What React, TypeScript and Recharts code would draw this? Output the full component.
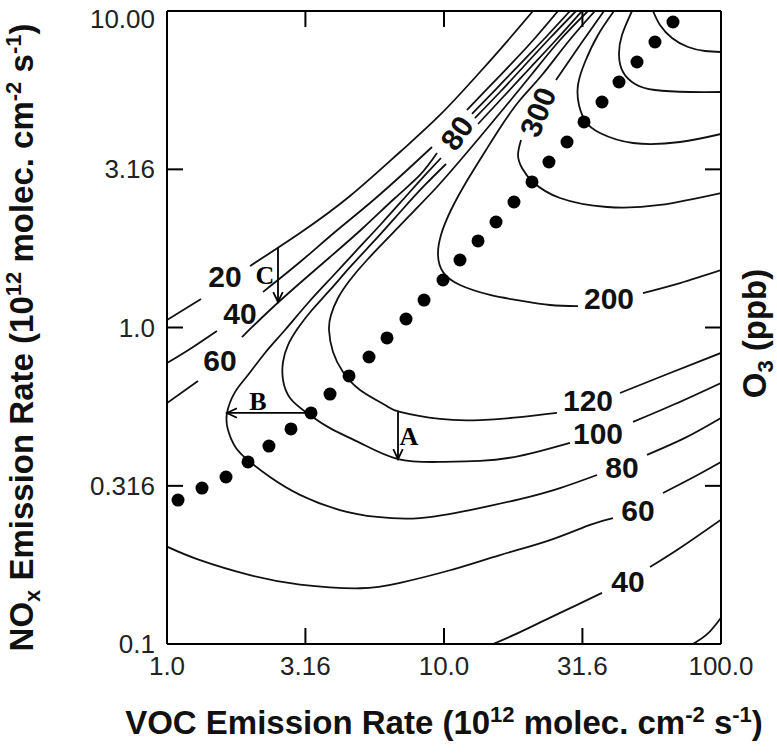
import React from "react";
import { ComposedChart, Line, Scatter, XAxis, YAxis, ReferenceLine, Label } from "recharts";

// ---------- axes ----------
const xTicks = [1, 3.16, 10, 31.6, 100];
const xTickLabels = ["1.0", "3.16", "10.0", "31.6", "100.0"];
const yTicks = [0.1, 0.316, 1, 3.16, 10];
const yTickLabels = ["0.1", "0.316", "1.0", "3.16", "10.00"];

// ---------- O3 isopleths (VOC, NOx) ; each level split into segments (gaps for labels) ----------
const c20 = [
  [[1, 1.056], [1.327, 1.23]],
  [[1.994, 1.564], [3.021, 1.989], [4.578, 2.603], [6.937, 3.585], [9.673, 4.693], [13.49, 6.416], [17.31, 8.217], [20.96, 10]],
  [[79.23, 0.1], [89.76, 0.108], [100, 0.121]],
];
const c40 = [
  [[1, 0.772], [1.211, 0.855], [1.515, 0.975]],
  [[2.221, 1.295], [3.021, 1.61], [4.041, 2.003], [5.406, 2.474], [7.231, 3.1], [9.051, 3.718]],
  [[12.11, 4.866], [14.66, 5.795], [17.89, 6.951], [21.48, 8.277], [25.8, 10]],
  [[15.03, 0.1], [18.81, 0.109], [23.15, 0.119], [29.71, 0.132], [37.19, 0.145]],
  [[55.42, 0.175], [71.12, 0.201], [100, 0.247]],
];
const c60 = [
  [[1, 0.577], [1.294, 0.678]],
  [[1.865, 0.933], [2.354, 1.136], [3.021, 1.382], [3.877, 1.67], [5.1, 2.062], [6.654, 2.565], [8.192, 3.033], [9.435, 3.559]],
  [[12.62, 4.727], [15.54, 5.711], [19.12, 6.9], [23.35, 8.277], [28.5, 10]],
  [[1, 0.203], [1.316, 0.184], [1.994, 0.165], [3.021, 0.154], [4.975, 0.15], [6.937, 0.156], [10.51, 0.171], [15.93, 0.191], [24.14, 0.213], [33.66, 0.238], [40.75, 0.25]],
  [[61.74, 0.3], [77.28, 0.332], [100, 0.376]],
];
const c80 = [
  [[9.754, 3.432], [8.755, 3.1], [7.414, 2.641], [5.973, 2.139], [4.852, 1.758], [3.942, 1.444], [3.229, 1.195], [2.667, 0.982], [2.258, 0.831], [1.961, 0.708], [1.76, 0.625], [1.647, 0.537], [1.661, 0.474], [1.775, 0.416], [1.994, 0.376], [2.354, 0.337], [3.021, 0.296], [4.213, 0.265], [5.73, 0.252], [8.192, 0.25], [12.41, 0.265], [18.81, 0.287], [26.23, 0.311], [35.67, 0.342]],
  [[12.94, 4.591], [15.93, 5.547], [19.61, 6.751], [24.14, 8.217], [29.96, 10]],
  [[54.05, 0.396], [74.13, 0.448], [100, 0.518]],
];
const c100 = [
  [[10.17, 3.285], [8.539, 2.82], [7.053, 2.351], [5.73, 1.918], [4.655, 1.576], [3.877, 1.314], [3.338, 1.136], [2.971, 0.996], [2.734, 0.88], [2.623, 0.778], [2.623, 0.683], [2.78, 0.599], [3.202, 0.537], [3.877, 0.481], [4.975, 0.432], [6.823, 0.384], [9.673, 0.376], [13.49, 0.379], [18.81, 0.393], [28.5, 0.432]],
  [[13.27, 4.395], [16.6, 5.427], [20.44, 6.605], [25.37, 8.098], [31.49, 10]],
  [[48.12, 0.503], [68.22, 0.573], [100, 0.668]],
];
const c120 = [
  [[33.1, 10], [26.23, 8.098], [20.78, 6.323], [16.6, 4.974], [13.49, 3.998], [11.23, 3.309], [9.357, 2.759], [7.728, 2.317], [6.384, 1.946], [5.273, 1.634], [4.578, 1.413], [4.143, 1.239], [3.909, 1.095], [3.845, 0.982], [3.975, 0.837], [4.319, 0.723], [4.975, 0.635], [6.124, 0.569], [6.937, 0.541], [9.673, 0.514], [13.49, 0.51], [18.81, 0.521], [25.58, 0.537]],
  [[43.19, 0.621], [62.78, 0.708], [100, 0.831]],
];
const c200 = [
  [[35.08, 10], [28.03, 7.981], [22.58, 6.277], [18.81, 5.233], [16.19, 4.363], [14.18, 3.638], [12.21, 2.944], [10.6, 2.351], [9.754, 1.96], [9.513, 1.695], [9.917, 1.497], [11.42, 1.362], [14.66, 1.267], [18.35, 1.221], [24.14, 1.178], [30.46, 1.169]],
  [[52.29, 1.285], [71.12, 1.382], [100, 1.519]],
];
const c300 = [
  [[37.81, 10], [30.97, 7.809], [25.37, 6.053]],
  [[18.97, 3.912], [18.5, 3.508], [19.12, 3.191], [20.96, 2.882], [26.23, 2.565], [38.76, 2.403], [60.22, 2.439], [100, 2.66]],
];
const c400 = [
  [[41.09, 10], [35.97, 8.398], [32.29, 6.9], [30.46, 5.837], [30.71, 5.046], [32.55, 4.459], [36.57, 4.116], [48.12, 3.828], [71.12, 3.856], [100, 4.087]],
];
const c500 = [
  [[47.72, 10], [43.91, 8.398], [42.83, 7.261], [44.28, 6.416], [48.92, 5.88], [57.77, 5.628], [77.28, 5.547], [100, 5.547]],
];
const c600 = [
  [[56.82, 10], [60.22, 9.032], [66.54, 8.217], [76.01, 7.696], [87.55, 7.475], [100, 7.421]],
];

// ridge line of maximum O3 (dots)
const ridgeDots = [
  [1.096, 0.285], [1.338, 0.311], [1.633, 0.337], [1.961, 0.376], [2.334, 0.422], [2.803, 0.478], [3.311, 0.537],
  [3.877, 0.616], [4.54, 0.703], [5.361, 0.807], [6.226, 0.927], [7.293, 1.064], [8.471, 1.221], [9.917, 1.413],
  [11.42, 1.634], [13.27, 1.877], [15.41, 2.154], [17.89, 2.492], [20.78, 2.883], [23.93, 3.334], [27.8, 3.856],
  [32.02, 4.461], [37.19, 5.159], [42.83, 5.966], [49.75, 6.901], [57.77, 7.982], [67.09, 9.232],
];

// contour labels (ppb)
const contourLabels = [
  { id: "20a", text: "20", x: 1.62, y: 1.444 },
  { id: "40a", text: "40", x: 1.835, y: 1.111 },
  { id: "60a", text: "60", x: 1.554, y: 0.784 },
  { id: "80a", text: "80", x: 11.14, y: 4.116 },
  { id: "300", text: "300", x: 21.84, y: 4.796 },
  { id: "200", text: "200", x: 39.42, y: 1.239 },
  { id: "120", text: "120", x: 33.1, y: 0.59 },
  { id: "100", text: "100", x: 35.97, y: 0.461 },
  { id: "80b", text: "80", x: 43.91, y: 0.36 },
  { id: "60b", text: "60", x: 50.16, y: 0.265 },
  { id: "40b", text: "40", x: 46.16, y: 0.157 },
];

// arrows A, B, C
const arrowA = [[6.823, 0.541], [6.823, 0.384]];
const arrowB = [[3.202, 0.537], [1.647, 0.537]];
const arrowC = [[2.516, 1.783], [2.516, 1.204]];
const arrowLetters = [
  { text: "A", x: 7.476, y: 0.454 },
  { text: "B", x: 2.131, y: 0.582 },
  { text: "C", x: 2.258, y: 1.455 },
];

// ---------- rendering ----------
const SANS = "'Liberation Sans', Arial, Helvetica, sans-serif";
const SERIF = "'Liberation Serif', 'Times New Roman', serif";
const labelAngles: Record<string, number> = { "80a": -55, "300": -68 };
const TICK = 16;
const TITLE_SIZE = 33;
const SUP_SIZE = 22;

const contours = [c20, c40, c60, c80, c100, c120, c200, c300, c400, c500, c600];
const toPts = (a: number[][]) => a.map(([x, y]) => ({ x, y }));

const renderXTick = (p: any) => {
  const i = xTicks.indexOf(p.payload.value);
  return (
    <g>
      <line x1={p.x} y1={p.y} x2={p.x} y2={p.y - TICK} stroke="#000" strokeWidth={2} />
      <text x={p.x} y={p.y + 22} textAnchor="middle" dominantBaseline="central" fontSize={26} fill="#222" fontFamily={SANS}>
        {xTickLabels[i]}
      </text>
    </g>
  );
};
const renderTopTick = (p: any) => (
  <line x1={p.x} y1={p.y} x2={p.x} y2={p.y + TICK} stroke="#000" strokeWidth={2} />
);
const renderYTick = (p: any) => {
  const i = yTicks.indexOf(p.payload.value);
  const shift = i === yTicks.length - 1 ? 8 : 0;
  return (
    <g>
      <line x1={p.x} y1={p.y} x2={p.x + TICK} y2={p.y} stroke="#000" strokeWidth={2} />
      <text x={p.x - 12} y={p.y + shift} textAnchor="end" dominantBaseline="central" fontSize={26} fill="#222" fontFamily={SANS}>
        {yTickLabels[i]}
      </text>
    </g>
  );
};
const renderRightTick = (p: any) => (
  <line x1={p.x} y1={p.y} x2={p.x - TICK} y2={p.y} stroke="#000" strokeWidth={2} />
);

const BottomTitle = (p: any) => {
  const vb = p.viewBox;
  const cx = vb.x + vb.width / 2;
  const base = vb.y + 90;
  return (
    <text x={cx} y={base} textAnchor="middle" fontSize={TITLE_SIZE} fontWeight="bold" fontFamily={SANS} fill="#111">
      <tspan>VOC Emission Rate (10</tspan>
      <tspan fontSize={SUP_SIZE} dy={-12}>12</tspan>
      <tspan dy={12}> molec. cm</tspan>
      <tspan fontSize={SUP_SIZE} dy={-12}>-2</tspan>
      <tspan dy={12}> s</tspan>
      <tspan fontSize={SUP_SIZE} dy={-12}>-1</tspan>
      <tspan dy={12}>)</tspan>
    </text>
  );
};
const LeftTitle = (p: any) => {
  const vb = p.viewBox;
  const x = vb.x - 64;
  const y = vb.y + vb.height / 2 + 10;
  return (
    <text x={x} y={y} transform={`rotate(-90 ${x} ${y})`} textAnchor="middle" fontSize={TITLE_SIZE} fontWeight="bold" fontFamily={SANS} fill="#111">
      <tspan>NO</tspan>
      <tspan fontSize={SUP_SIZE} dy={7}>x</tspan>
      <tspan dy={-7}> Emission Rate (10</tspan>
      <tspan fontSize={SUP_SIZE} dy={-12}>12</tspan>
      <tspan dy={12}> molec. cm</tspan>
      <tspan fontSize={SUP_SIZE} dy={-12}>-2</tspan>
      <tspan dy={12}> s</tspan>
      <tspan fontSize={SUP_SIZE} dy={-12}>-1</tspan>
      <tspan dy={12}>)</tspan>
    </text>
  );
};
const RightTitle = (p: any) => {
  const vb = p.viewBox;
  const x = vb.x + 45;
  const y = vb.y + vb.height / 2 + 6;
  return (
    <text x={x} y={y} transform={`rotate(-90 ${x} ${y})`} textAnchor="middle" fontSize={TITLE_SIZE} fontWeight="bold" fontFamily={SANS} fill="#111">
      <tspan>O</tspan>
      <tspan fontSize={SUP_SIZE} dy={7}>3</tspan>
      <tspan dy={-7}> (ppb)</tspan>
    </text>
  );
};

const ArrowShape = (p: any) => {
  const { x1, y1, x2, y2 } = p;
  const ang = Math.atan2(y2 - y1, x2 - x1);
  const L = 11;
  const s = Math.PI / 7;
  const a1 = ang + Math.PI - s;
  const a2 = ang + Math.PI + s;
  return (
    <g stroke="#000" strokeWidth={1.8} fill="none">
      <line x1={x1} y1={y1} x2={x2} y2={y2} />
      <polyline points={`${x2 + L * Math.cos(a1)},${y2 + L * Math.sin(a1)} ${x2},${y2} ${x2 + L * Math.cos(a2)},${y2 + L * Math.sin(a2)}`} />
    </g>
  );
};

const axisLineStyle = { stroke: "#000", strokeWidth: 2 };

export default function App() {
  const segs: number[][][] = [];
  contours.forEach((c) => c.forEach((s) => segs.push(s)));
  const arrows = [arrowA, arrowB, arrowC];
  return (
    <div style={{ position: "absolute", left: 0, top: 0, width: 777, height: 753, background: "#fff" }}>
      <ComposedChart width={777} height={753} margin={{ top: 10, right: 55, bottom: 49, left: 97 }}>
        <XAxis xAxisId="b" dataKey="x" type="number" scale="log" domain={[1, 100]} ticks={xTicks} interval={0}
          allowDataOverflow height={60} tickSize={0} tickMargin={0} tick={renderXTick}
          axisLine={axisLineStyle} tickLine={false}>
          <Label content={BottomTitle} />
        </XAxis>
        <XAxis xAxisId="t" orientation="top" dataKey="x" type="number" scale="log" domain={[1, 100]} ticks={xTicks} interval={0}
          allowDataOverflow height={1} tickSize={0} tickMargin={0} tick={renderTopTick} axisLine={axisLineStyle} tickLine={false} />
        <YAxis yAxisId="l" dataKey="y" type="number" scale="log" domain={[0.1, 10]} ticks={yTicks} interval={0}
          allowDataOverflow width={70} tickSize={0} tickMargin={0} tick={renderYTick}
          axisLine={axisLineStyle} tickLine={false}>
          <Label content={LeftTitle} />
        </YAxis>
        <YAxis yAxisId="r" orientation="right" dataKey="y" type="number" scale="log" domain={[0.1, 10]} ticks={yTicks} interval={0}
          allowDataOverflow width={1} tickSize={0} tickMargin={0} tick={renderRightTick} axisLine={axisLineStyle} tickLine={false}>
          <Label content={RightTitle} />
        </YAxis>

        {segs.map((s, i) => (
          <Line key={`seg${i}`} xAxisId="b" yAxisId="l" data={toPts(s)} dataKey="y" type="natural"
            stroke="#111" strokeWidth={1.8} dot={false} activeDot={false} legendType="none" isAnimationActive={false} />
        ))}

        <Scatter xAxisId="b" yAxisId="l" data={toPts(ridgeDots)} dataKey="y" isAnimationActive={false}
          shape={(p: any) => <circle cx={p.cx} cy={p.cy} r={6.5} fill="#000" />} />

        <Scatter xAxisId="b" yAxisId="l" data={contourLabels} dataKey="y" isAnimationActive={false}
          shape={(p: any) => {
            const rot = labelAngles[p.payload.id] || 0;
            return (
              <text x={p.cx} y={p.cy} transform={`rotate(${rot} ${p.cx} ${p.cy})`} textAnchor="middle" dominantBaseline="central"
                fontSize={30} fontWeight="bold" fontFamily={SANS} fill="#111">
                {p.payload.text}
              </text>
            );
          }} />

        {arrows.map((a, i) => (
          <ReferenceLine key={`arr${i}`} xAxisId="b" yAxisId="l" ifOverflow="visible"
            segment={[{ x: a[0][0], y: a[0][1] }, { x: a[1][0], y: a[1][1] }]} shape={ArrowShape} />
        ))}

        <Scatter xAxisId="b" yAxisId="l" data={arrowLetters} dataKey="y" isAnimationActive={false}
          shape={(p: any) => (
            <text x={p.cx} y={p.cy} textAnchor="middle" dominantBaseline="central" fontSize={26} fontWeight="bold"
              fontFamily={SERIF} fill="#000">
              {p.payload.text}
            </text>
          )} />
      </ComposedChart>
    </div>
  );
}
